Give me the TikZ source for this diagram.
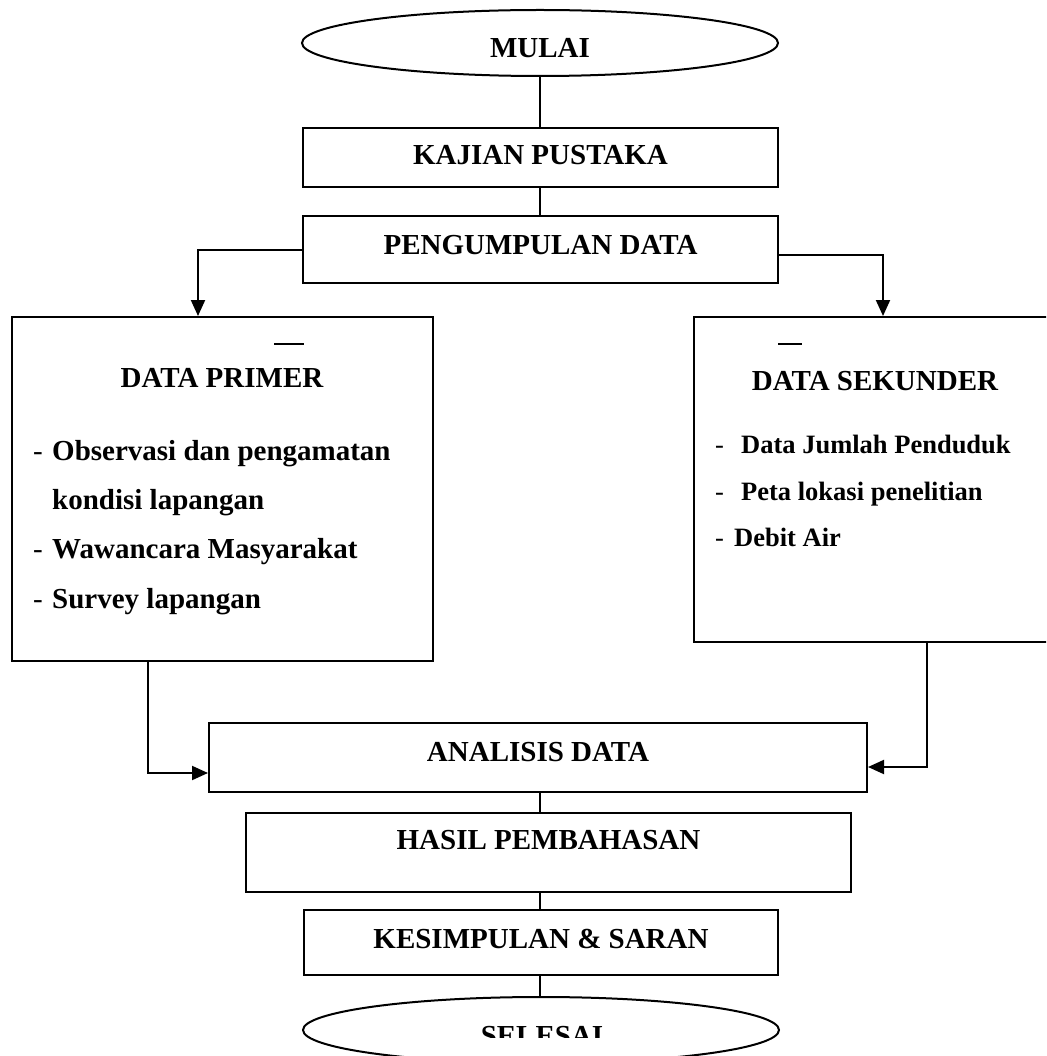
\documentclass[tikz,border=0pt]{standalone}
\usepackage{fontspec}
\setmainfont{Liberation Serif}
\usetikzlibrary{shapes.geometric,arrows.meta}
\newcommand{\hurufjudul}{\fontsize{29}{35}\selectfont\bfseries}
\newcommand{\hurufisi}{\fontsize{26.5}{32}\selectfont\bfseries}
\tikzset{
  kotak/.style={draw,line width=2pt,inner sep=0pt,font=\hurufjudul},
  ujung/.style={draw,ellipse,line width=2pt,inner sep=0pt,minimum width=476pt,minimum height=66pt,font=\hurufjudul},
  panah/.style={line width=2pt,-{Triangle[width=14pt,length=16pt]}},
  garis/.style={line width=2pt},
  judul/.style={anchor=base,inner sep=0pt,font=\hurufjudul},
  teks/.style={anchor=base west,inner sep=0pt,font=\hurufjudul},
  teksb/.style={anchor=base west,inner sep=0pt,font=\hurufisi},
  strip/.style={anchor=base west,inner sep=0pt,font=\fontsize{29}{35}\selectfont\mdseries},
}
\begin{document}
\begin{tikzpicture}[x=1pt,y=-1pt]
\useasboundingbox (0,0) rectangle (1046,1056);
\clip (0,0) rectangle (1046,1056);
% alur utama
\node[ujung,text height=30pt,text depth=0pt] (mulai) at (540,43) {MULAI};
\node[kotak,minimum width=475pt,minimum height=59pt,text depth=5pt] (kajian) at (540.5,157.5) {KAJIAN PUSTAKA};
\node[kotak,minimum width=475pt,minimum height=67pt,text depth=9pt] (kumpul) at (540.5,249.5) {PENGUMPULAN DATA};
\node[kotak,minimum width=421pt,minimum height=344pt] (primer) at (222.5,489) {};
\node[kotak,minimum width=364pt,minimum height=325pt] (sekunder) at (876,479.5) {};
\node[kotak,minimum width=658pt,minimum height=69pt,text depth=11pt] (analisis) at (538,757.5) {ANALISIS DATA};
\node[kotak,minimum width=605pt,minimum height=79pt,text depth=25pt] (hasil) at (548.5,852.5) {HASIL PEMBAHASAN};
\node[kotak,minimum width=474pt,minimum height=65pt,text depth=8pt] (simpulan) at (541,942.5) {KESIMPULAN \& SARAN};
\node[ujung] (selesai) at (541,1030) {};
\begin{scope}
  \clip (400,990) rectangle (700,1037);
  \node[judul] (teksSelesai) at (542,1045) {SELESAI};
\end{scope}
% isi data primer
\draw[garis] (274,344) -- (304,344);
\node[judul] (judulPrimer) at (222,387) {DATA PRIMER};
\foreach \y [count=\i] in {460,558,608}
  \node[strip] (sp\i) at (33,\y) {-};
\node[teks] (p1) at (52,460) {Observasi dan pengamatan};
\node[teks] (p2) at (52,509) {kondisi lapangan};
\node[teks] (p3) at (52,558) {Wawancara Masyarakat};
\node[teks] (p4) at (52,608) {Survey lapangan};
% isi data sekunder
\draw[garis] (778,344) -- (802,344);
\node[judul] (judulSekunder) at (875,390) {DATA SEKUNDER};
\foreach \y [count=\i] in {453,500,546}
  \node[strip,font=\hurufisi\mdseries] (ss\i) at (715,\y) {-};
\node[teksb] (k1) at (741,453) {Data Jumlah Penduduk};
\node[teksb] (k2) at (741,500) {Peta lokasi penelitian};
\node[teksb] (k3) at (734,546) {Debit Air};
% penghubung
\coordinate (kiriAtas) at (198,250);
\coordinate (kananAtas) at (883,255);
\coordinate (kiriBawah) at (148,773);
\coordinate (kananBawah) at (927,767);
\draw[garis] (mulai.south) -- (kajian.north -| mulai);
\draw[garis] (kajian.south -| mulai) -- (kumpul.north -| mulai);
\draw[panah] (kumpul.west |- kiriAtas) -- (kiriAtas) -- (kiriAtas |- primer.north);
\draw[panah] (kumpul.east |- kananAtas) -- (kananAtas) -- (kananAtas |- sekunder.north);
\draw[panah] (primer.south -| kiriBawah) -- (kiriBawah) -- (kiriBawah -| analisis.west);
\draw[panah] (sekunder.south -| kananBawah) -- (kananBawah) -- (kananBawah -| analisis.east);
\draw[garis] (analisis.south -| mulai) -- (hasil.north -| mulai);
\draw[garis] (hasil.south -| mulai) -- (simpulan.north -| mulai);
\draw[garis] (simpulan.south -| mulai) -- (selesai.north -| mulai);
\end{tikzpicture}
\end{document}
